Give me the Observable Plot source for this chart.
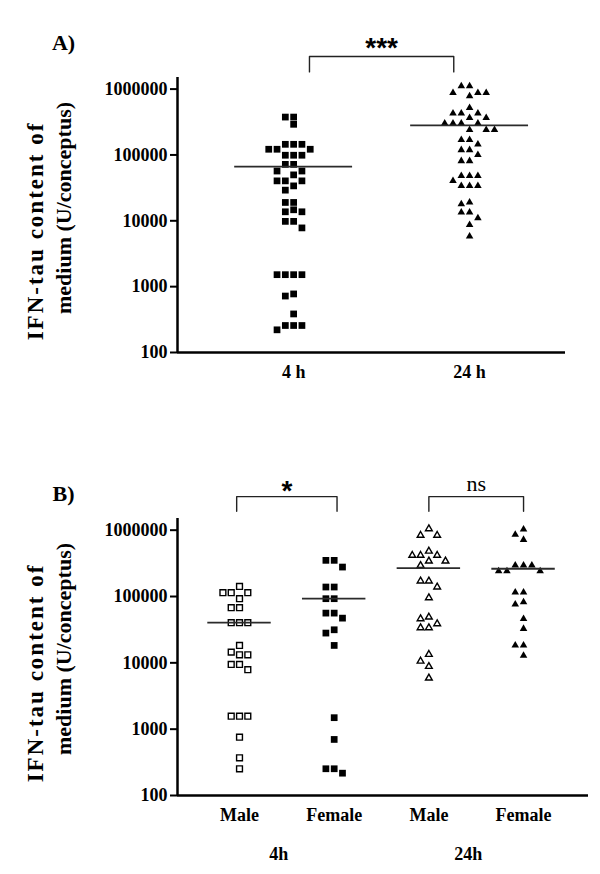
<!DOCTYPE html>
<html>
<head>
<meta charset="utf-8">
<script src="https://cdn.jsdelivr.net/npm/d3@7"></script>
<script src="https://cdn.jsdelivr.net/npm/@observablehq/plot@0.6"></script>
<style>
html, body { margin: 0; padding: 0; background: #fff; }
#chart { width: 600px; height: 874px; background: #fff; }
#chart svg { display: block; }
</style>
</head>
<body>
<div id="chart"></div>
<script>
// ---------------- data ----------------
const yTicks = [100, 1000, 10000, 100000, 1000000];

// Panel A
const timesA = ["4 h", "24 h"];
const a4h = [376000, 376000, 292000, 145000, 145000, 145000, 122000, 122000, 122000,
  99000, 99000, 99000, 72000, 72000, 57000, 57000, 49800, 40400, 40400, 40400, 33900,
  29200, 19000, 19000, 14700, 13700, 13700, 9800, 9800, 7800, 1520, 1520, 1520, 1520,
  775, 720, 385, 257, 257, 257, 221];
const a24h = [1110000, 1110000, 880000, 880000, 880000, 783000, 521000, 428000, 428000,
  428000, 367000, 367000, 302000, 302000, 302000, 302000, 240000, 240000, 240000,
  169000, 169000, 145000, 119000, 119000, 100000, 81000, 81000, 48000, 48000, 48000,
  40400, 33900, 33900, 33900, 19000, 17900, 13400, 13400, 11000, 8700, 5800];
const medianA = [66500, 282000];
const signifA = ["***"];

// Panel B
const sexB = ["Male", "Female", "Male", "Female"];
const timesB = ["4h", "24h"];
const bMale4h = [142000, 114000, 114000, 114000, 92700, 67800, 67800, 40300, 40300, 40300,
  18300, 14500, 13200, 13200, 9460, 9460, 7870, 1570, 1570, 1570, 757, 370, 253];
const bFemale4h = [351000, 351000, 278000, 139000, 139000, 92700, 92700, 56200, 56200,
  47200, 31500, 28100, 18300, 1490, 700, 253, 253, 217];
const bMale24h = [1050000, 835000, 835000, 483000, 417000, 417000, 417000, 342000, 342000,
  294000, 171000, 171000, 139000, 95700, 48900, 46200, 38800, 33800, 33800, 13400, 10600,
  8830, 5890];
const bFemale24h = [1030000, 855000, 718000, 294000, 294000, 294000, 241000, 241000, 241000,
  116000, 116000, 82400, 76000, 46200, 32700, 18300, 18300, 12900];
const medianB = [40300, 92700, 268000, 262000];
const signifB = ["*", "ns"];

const yLabel1 = "IFN-tau content of";
const yLabel2 = "medium (U/conceptus)";

// ---------------- helpers ----------------
const Y_MIN = 100, Y_MAX = 1.5e6;
const W = 600;
const serif = "'Liberation Serif', 'Times New Roman', serif";
const sans = "'Liberation Sans', Arial, sans-serif";

// Prism-like scatter: spread points of similar value into columns
function scatterColumns(values, gi, yPix, unitPx, colPx = 8.3, gap = 7) {
  const pts = values.map(v => ({ value: v })).sort((a, b) => b.value - a.value);
  const order = [0, -1, 1, -2, 2, -3, 3, -4, 4, -5, 5];
  const placed = [];
  for (const p of pts) {
    p.py = yPix(p.value);
    for (const k of order) {
      if (!placed.some(q => q.k === k && Math.abs(q.py - p.py) < gap)) { p.k = k; break; }
    }
    placed.push(p);
  }
  return placed.map(p => ({ g: gi, value: p.value, x: gi + p.k * colPx / unitPx }));
}

function bracketPath(from, to, inset, rise, tick) {
  const top = Y_MAX * Math.pow(10, rise), lo = Y_MAX * Math.pow(10, tick);
  return [
    { x: from + inset, y: lo }, { x: from + inset, y: top },
    { x: to - inset, y: top }, { x: to - inset, y: lo }
  ];
}

function styleSvg(svg) {
  svg.style.fontFamily = serif;
  svg.style.fontWeight = "bold";
  svg.style.fontSize = "18px";
  svg.style.background = "#fff";
  svg.style.color = "#000";
  d3.select(svg).selectAll("text")
    .filter(function () { return this.textContent === yLabel1; })
    .style("letter-spacing", "2px");
  return svg;
}

function yLabelMarks(dy1, dy2) {
  return [
    Plot.text([yLabel1], { frameAnchor: "left", dx: -142, dy: dy1, rotate: -90, fontSize: 23, fontWeight: "bold", fontFamily: serif, textAnchor: "middle", lineAnchor: "middle" }),
    Plot.text([yLabel2], { frameAnchor: "left", dx: -114, dy: dy2, rotate: -90, fontSize: 22, fontWeight: "bold", fontFamily: serif, textAnchor: "middle", lineAnchor: "middle" })
  ];
}

// ---------------- Panel A ----------------
const hA = 400, mtA = 77, mbA = 48, ml = 177, mrA = 35;
const xDomA = [-0.66, 1.545];
const unitA = (W - ml - mrA) / (xDomA[1] - xDomA[0]);
const yPixA = d3.scaleLog().domain([Y_MIN, Y_MAX]).range([hA - mbA, mtA]);
const dA0 = scatterColumns(a4h, 0, yPixA, unitA);
const dA1 = scatterColumns(a24h, 1, yPixA, unitA);
const brA = bracketPath(0, 1, 0.09, 0.32, 0.085);
const brTopA = Y_MAX * Math.pow(10, 0.32);

const plotA = Plot.plot({
  width: W, height: hA,
  marginTop: mtA, marginBottom: mbA, marginLeft: ml, marginRight: mrA,
  x: { type: "linear", domain: xDomA, label: null },
  y: { type: "log", domain: [Y_MIN, Y_MAX], label: null },
  marks: [
    Plot.axisY(yTicks, { tickFormat: d => String(d), tickSize: 7, tickPadding: 3, strokeWidth: 2, fontSize: 18, fontWeight: "bold", label: null }),
    Plot.axisX([0, 1], { tickFormat: i => timesA[i], tickSize: 0, tickPadding: 13, fontSize: 18, fontWeight: "bold", label: null }),
    Plot.ruleX([xDomA[0]], { strokeWidth: 2.5 }),
    Plot.ruleY([Y_MIN], { strokeWidth: 2.5 }),
    Plot.dot(dA0, { x: "x", y: "value", symbol: "square", r: 3.8, fill: "black", stroke: "none" }),
    Plot.dot(dA1, { x: "x", y: "value", symbol: "triangle", r: 2.8, fill: "black", stroke: "none" }),
    Plot.ruleY(medianA, { y: d => d, x1: (d, i) => i - 0.335, x2: (d, i) => i + 0.335, stroke: "#2b2b2b", strokeWidth: 1.8 }),
    Plot.line(brA, { x: "x", y: "y", stroke: "#222", strokeWidth: 1.4, clip: false }),
    Plot.text(signifA, { x: 0.5, y: brTopA, dy: -8, fontFamily: sans, fontWeight: "bold", fontSize: 28, textAnchor: "middle" }),
    ...yLabelMarks(16, -7),
    Plot.text(["A)"], { frameAnchor: "top-left", dx: -114, dy: -35, fontSize: 22, fontWeight: "bold", fontFamily: serif, textAnchor: "middle", lineAnchor: "middle" })
  ]
});

// ---------------- Panel B ----------------
const hB = 434, mtB = 78, mbB = 79, mrB = 12;
const xDomB = [-0.655, 3.686];
const unitB = (W - ml - mrB) / (xDomB[1] - xDomB[0]);
const yPixB = d3.scaleLog().domain([Y_MIN, Y_MAX]).range([hB - mbB, mtB]);
const dB0 = scatterColumns(bMale4h, 0, yPixB, unitB);
const dB1 = scatterColumns(bFemale4h, 1, yPixB, unitB);
const dB2 = scatterColumns(bMale24h, 2, yPixB, unitB);
const dB3 = scatterColumns(bFemale24h, 3, yPixB, unitB);
const brB1 = bracketPath(0, 1, -0.03, 0.33, 0.11);
const brB2 = bracketPath(2, 3, 0.0, 0.33, 0.11);
const brTopB = Y_MAX * Math.pow(10, 0.33);

const plotB = Plot.plot({
  width: W, height: hB,
  marginTop: mtB, marginBottom: mbB, marginLeft: ml, marginRight: mrB,
  x: { type: "linear", domain: xDomB, label: null },
  y: { type: "log", domain: [Y_MIN, Y_MAX], label: null },
  marks: [
    Plot.axisY(yTicks, { tickFormat: d => String(d), tickSize: 7, tickPadding: 3, strokeWidth: 2, fontSize: 18, fontWeight: "bold", label: null }),
    Plot.axisX([0, 1, 2, 3], { tickFormat: i => sexB[i], tickSize: 0, tickPadding: 13, fontSize: 18, fontWeight: "bold", label: null }),
    Plot.text(timesB, { x: (d, i) => 2 * i + 0.5, y: Y_MIN, dy: 59, dx: -8, fontSize: 18, fontWeight: "bold", fontFamily: serif, textAnchor: "middle" }),
    Plot.ruleX([xDomB[0]], { strokeWidth: 2.5 }),
    Plot.ruleY([Y_MIN], { strokeWidth: 2.5 }),
    Plot.dot(dB0, { x: "x", y: "value", symbol: "square", r: 3.3, fill: "white", stroke: "black", strokeWidth: 1.4 }),
    Plot.dot(dB1, { x: "x", y: "value", symbol: "square", r: 3.8, fill: "black", stroke: "none" }),
    Plot.dot(dB2, { x: "x", y: "value", symbol: "triangle", r: 2.5, fill: "white", stroke: "black", strokeWidth: 1.4 }),
    Plot.dot(dB3, { x: "x", y: "value", symbol: "triangle", r: 2.8, fill: "black", stroke: "none" }),
    Plot.ruleY(medianB, { y: d => d, x1: (d, i) => i - 0.335, x2: (d, i) => i + 0.335, stroke: "#2b2b2b", strokeWidth: 1.8 }),
    Plot.line(brB1, { x: "x", y: "y", stroke: "#222", strokeWidth: 1.4, clip: false }),
    Plot.line(brB2, { x: "x", y: "y", stroke: "#222", strokeWidth: 1.4, clip: false }),
    Plot.text([signifB[0]], { x: 0.5, y: brTopB, dy: -6, fontFamily: sans, fontWeight: "bold", fontSize: 28, textAnchor: "middle" }),
    Plot.text([signifB[1]], { x: 2.5, y: brTopB, dy: -13, fontFamily: serif, fontWeight: "normal", fontSize: 22, textAnchor: "middle" }),
    ...yLabelMarks(16, -8),
    Plot.text(["B)"], { frameAnchor: "top-left", dx: -114, dy: -25, fontSize: 22, fontWeight: "bold", fontFamily: serif, textAnchor: "middle", lineAnchor: "middle" })
  ]
});

const chart = document.getElementById("chart");
styleSvg(plotA);
styleSvg(plotB);
plotB.style.marginTop = "40px";
chart.appendChild(plotA);
chart.appendChild(plotB);
</script>
</body>
</html>
